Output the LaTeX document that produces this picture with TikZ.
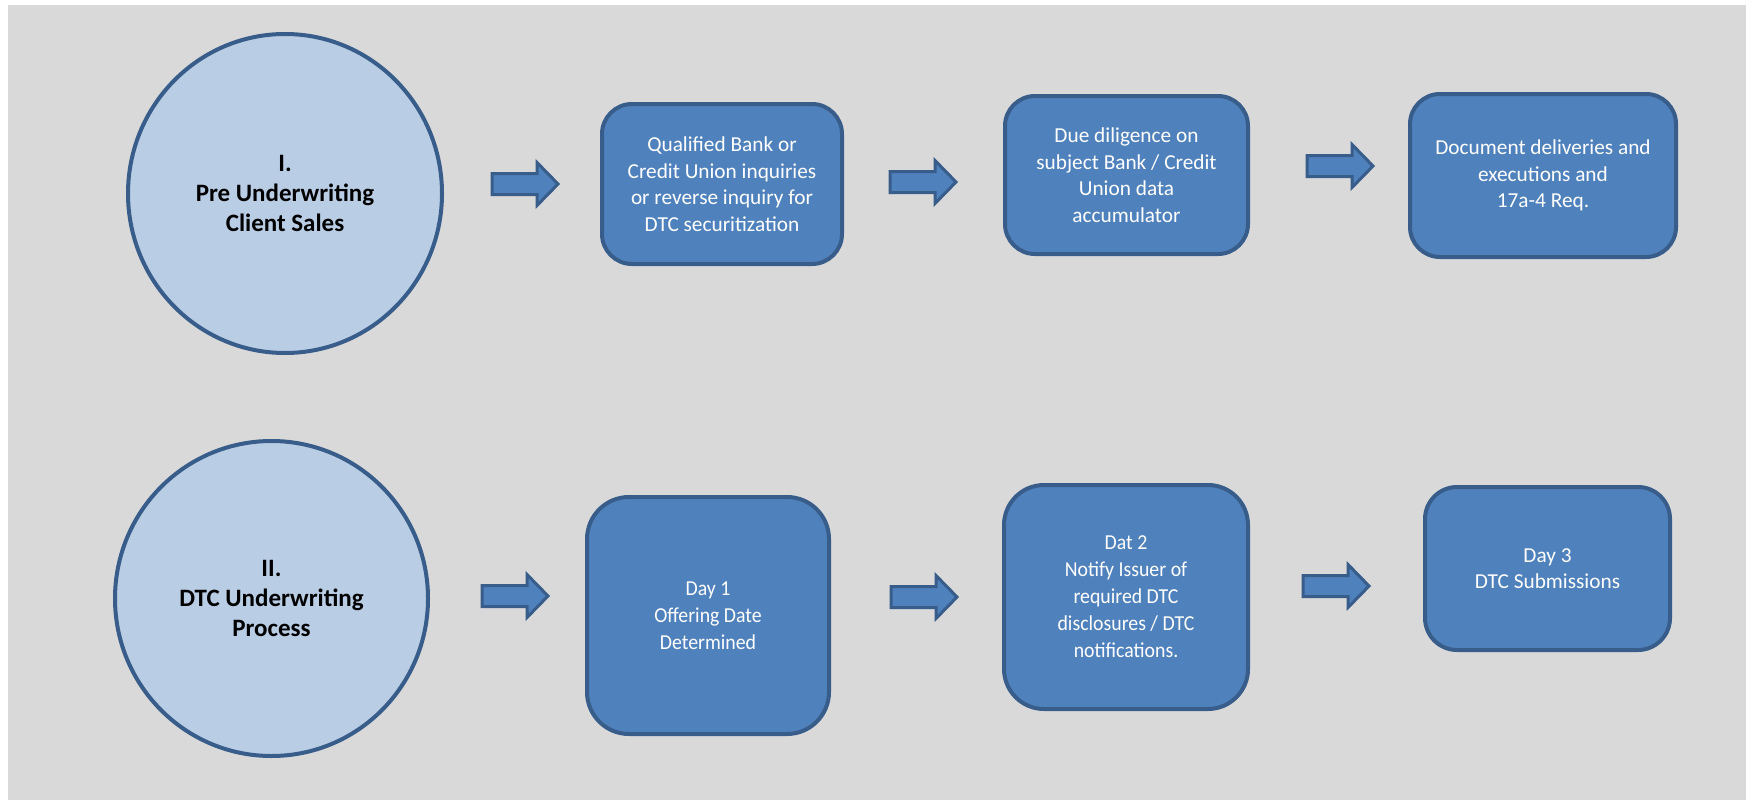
\documentclass[tikz,border=0pt]{standalone}
\usepackage{fontspec}
\usetikzlibrary{shapes.geometric}
\setmainfont{Carlito}
\newfontfamily\condfont[FakeStretch=0.93]{Carlito}
\definecolor{bggray}{HTML}{D9D9D9}
\definecolor{boxblue}{HTML}{4F81BD}
\definecolor{edgeblue}{HTML}{385D8A}
\definecolor{lightblue}{HTML}{B9CDE5}
\begin{document}
\begin{tikzpicture}[x=1pt,y=-1pt,
  phase/.style={ellipse, draw=edgeblue, fill=lightblue, line width=4pt, inner sep=0pt,
    align=center, text=black, font=\fontsize{25}{30}\selectfont\bfseries},
  stepbox/.style={draw=edgeblue, fill=boxblue, line width=4pt, inner sep=0pt,
    align=center, text=white, font=\fontsize{21.3}{26.5}\selectfont},
  condbox/.style={stepbox, font=\condfont\fontsize{21.3}{27}\selectfont},
  arrowshape/.style={draw=edgeblue, fill=boxblue, line width=3pt, line join=miter},
  blockarrow/.pic={\filldraw[arrowshape] (0,-10.5) -- (45,-10.5) -- (45,-21.5) -- (66,0)
     -- (45,21.5) -- (45,10.5) -- (0,10.5) -- cycle;}
]
\useasboundingbox (0,0) rectangle (1752,800);
\fill[white] (0,0) rectangle (1752,800);
\fill[bggray] (8,5) rectangle (1746,800);

% phase circles
\node[phase, minimum width=314pt, minimum height=319pt] (p1) at (285,193.5)
  {I.\\Pre Underwriting\\Client Sales};
\node[phase, minimum width=313pt, minimum height=315pt] (p2) at (271.5,598.5)
  {II.\\DTC Underwriting\\Process};

% top row boxes
\node[stepbox, rounded corners=30pt, minimum width=240pt, minimum height=160pt] (q) at (722,184)
  {Qualified Bank or\\Credit Union inquiries\\or reverse inquiry for\\DTC securitization};
\node[stepbox, rounded corners=30pt, minimum width=243pt, minimum height=158pt] (dd) at (1126.5,175)
  {Due diligence on\\subject Bank / Credit\\Union data\\accumulator};
\node[stepbox, rounded corners=30pt, minimum width=266pt, minimum height=163pt] (doc) at (1543,175.5)
  {Document deliveries and\\executions and\\17a-4 Req.};

% bottom row boxes
\node[condbox, rounded corners=42pt, minimum width=242pt, minimum height=237pt] (d1) at (708,615.5)
  {Day 1\\Offering Date\\Determined};
\node[condbox, rounded corners=40pt, minimum width=244pt, minimum height=224pt] (d2) at (1126,597)
  {Dat 2\\Notify Issuer of\\required DTC\\disclosures / DTC\\notifications.};
\node[stepbox, rounded corners=32pt, minimum width=245pt, minimum height=163pt] (d3) at (1547.5,568.5)
  {Day 3\\DTC Submissions};

% block arrows
\pic (a1) at (492,184) {blockarrow};
\pic (a2) at (890,182) {blockarrow};
\pic (a3) at (1307,166) {blockarrow};
\pic (b1) at (482,596) {blockarrow};
\pic (b2) at (891,597) {blockarrow};
\pic (b3) at (1303,586) {blockarrow};
\end{tikzpicture}
\end{document}
